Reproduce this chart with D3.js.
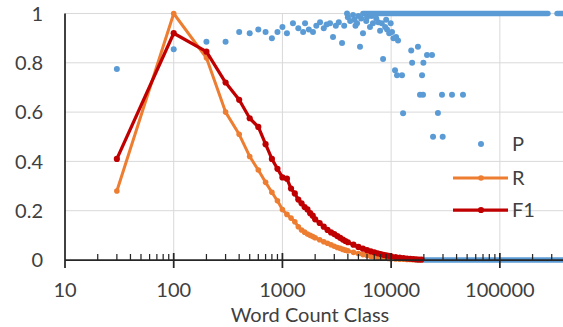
<!DOCTYPE html>
<html>
<head>
<meta charset="utf-8">
<script src="https://cdn.jsdelivr.net/npm/d3@7"></script>
<style>
  body { margin: 0; background: #fff; }
  svg { display: block; font-family: Lato, "Open Sans", sans-serif; }
</style>
</head>
<body>
<svg id="chart" width="563" height="327"></svg>
<script>
// word count classes used by R and F1
var rfClasses = [30, 100, 200, 300, 400, 500, 600, 700, 800, 900, 1000,
  1100, 1200, 1300, 1400, 1500, 1600, 1700, 1800, 1900, 2000,
  2200, 2400, 2600, 2800, 3000, 3200, 3400, 3600, 3800, 4000,
  4500, 5000, 5500, 6000, 6500, 7000, 7500, 8000, 8500, 9000, 9500, 10000,
  11000, 12000, 13000, 14000, 15000, 16000, 17000, 18000, 19000];
var rValues = [0.28, 1.0, 0.82, 0.60, 0.51, 0.42, 0.365, 0.315, 0.275, 0.24, 0.205,
  0.185, 0.17, 0.155, 0.135, 0.122, 0.113, 0.105, 0.1, 0.095, 0.09,
  0.082, 0.074, 0.068, 0.062, 0.056, 0.051, 0.047, 0.043, 0.04, 0.037,
  0.031, 0.026, 0.022, 0.018, 0.015, 0.013, 0.011, 0.01, 0.008, 0.007, 0.006, 0.005,
  0.004, 0.003, 0.003, 0.002, 0.002, 0.001, 0.001, 0.001, 0.001];
var f1Values = [0.41, 0.92, 0.845, 0.72, 0.65, 0.575, 0.54, 0.47, 0.41, 0.37, 0.335,
  0.33, 0.29, 0.27, 0.245, 0.23, 0.215, 0.205, 0.19, 0.18, 0.165,
  0.15, 0.135, 0.122, 0.112, 0.105, 0.097, 0.09, 0.083, 0.077, 0.072,
  0.062, 0.053, 0.046, 0.04, 0.035, 0.031, 0.027, 0.024, 0.021, 0.019, 0.017, 0.015,
  0.012, 0.01, 0.008, 0.006, 0.005, 0.004, 0.003, 0.002, 0.002];

// P scattered points
var pClasses = [30, 100, 200, 300, 400, 500, 600, 700, 800, 900, 1000, 1100,
  1250, 1400, 1550, 1615, 1750, 1910, 2050, 2220, 2400, 2550, 2740, 2920,
  3100, 3300, 3535, 3700, 3930, 4000, 4200, 4460, 4600, 4700, 4860, 5000, 5170,
  5300, 5510, 5900, 6000, 6390, 6600, 6800, 7300, 7600, 7910, 8200, 8430, 8800,
  9000, 9170, 9600, 9900, 10190, 10500, 10860, 11100, 11330, 11570, 12590, 12880,
  15300, 15600, 17650, 18440, 19240, 19640, 19800, 21380, 23770, 24290, 26930,
  29360, 29800, 36300, 45800];
var pValues = [0.775, 0.855, 0.885, 0.885, 0.925, 0.92, 0.935, 0.925, 0.90, 0.925, 0.945, 0.92,
  0.96, 0.94, 0.925, 0.96, 0.935, 0.925, 0.95, 0.965, 0.94, 0.955, 0.96, 0.905,
  0.95, 0.965, 0.88, 0.95, 1.0, 0.985, 0.97, 0.994, 0.975, 0.95, 0.96, 0.99, 0.865,
  0.98, 0.92, 0.97, 0.985, 0.945, 0.99, 0.96, 0.98, 0.965, 0.93, 0.96, 0.815, 0.945,
  0.975, 0.935, 0.92, 0.96, 0.925, 0.9, 0.77, 0.905, 0.75, 0.89, 0.75, 0.595,
  0.85, 0.80, 0.865, 0.67, 0.75, 0.67, 0.8, 0.832, 0.832, 0.5, 0.596,
  0.67, 0.5, 0.67, 0.67];

// P runs of consecutive classes sharing the same value
var pRunStart = [5500, 336000, 17000];
var pRunEnd = [277000, 381000, 381000];
var pRunValue = [1, 1, 0];

var xTicks = [10, 100, 1000, 10000, 100000];
var yTicks = [0, 0.2, 0.4, 0.6, 0.8, 1];
var yTickLabels = ["0", "0.2", "0.4", "0.6", "0.8", "1"];
var seriesNames = ["P", "R", "F1"];

var colorP = "#5b9bd5", colorR = "#ed7d31", colorF1 = "#c00000";

var svg = d3.select("#chart");
var x = d3.scaleLog().domain([10, 381000]).range([65, 563]);
var y = d3.scaleLinear().domain([0, 1]).range([260, 13.5]);

// gridlines
svg.append("g").selectAll("line").data(yTicks.slice(1)).enter().append("line")
  .attr("x1", x(10)).attr("x2", 563)
  .attr("y1", function(d){ return y(d); }).attr("y2", function(d){ return y(d); })
  .attr("stroke", "#d9d9d9").attr("stroke-width", 1);
svg.append("g").selectAll("line").data(xTicks.slice(1)).enter().append("line")
  .attr("x1", function(d){ return x(d); }).attr("x2", function(d){ return x(d); })
  .attr("y1", y(1)).attr("y2", y(0))
  .attr("stroke", "#d9d9d9").attr("stroke-width", 1);

// P
var pts = pClasses.map(function(c, i){ return [c, pValues[i]]; });
svg.append("g").selectAll("line").data(pRunStart).enter().append("line")
  .attr("x1", function(d){ return x(d); })
  .attr("x2", function(d, i){ return x(pRunEnd[i]); })
  .attr("y1", function(d, i){ return y(pRunValue[i]); })
  .attr("y2", function(d, i){ return y(pRunValue[i]); })
  .attr("stroke", colorP).attr("stroke-width", 5.5).attr("stroke-linecap", "round");
svg.append("g").selectAll("circle").data(pts).enter().append("circle")
  .attr("cx", function(d){ return x(d[0]); })
  .attr("cy", function(d){ return y(d[1]); })
  .attr("r", 3).attr("fill", colorP);

// R and F1
function drawSeries(vals, color, w, r) {
  var data = rfClasses.map(function(c, i){ return [c, vals[i]]; });
  var line = d3.line().x(function(d){ return x(d[0]); }).y(function(d){ return y(d[1]); });
  svg.append("path").datum(data).attr("d", line)
    .attr("fill", "none").attr("stroke", color).attr("stroke-width", w)
    .attr("stroke-linejoin", "round");
  svg.append("g").selectAll("circle").data(data).enter().append("circle")
    .attr("cx", function(d){ return x(d[0]); })
    .attr("cy", function(d){ return y(d[1]); })
    .attr("r", r).attr("fill", color);
}
drawSeries(rValues, colorR, 3, 2.8);
drawSeries(f1Values, colorF1, 3.25, 3.1);

// axes
svg.append("line").attr("x1", x(10)).attr("x2", x(10)).attr("y1", y(1)).attr("y2", y(0) + 8)
  .attr("stroke", "#262626").attr("stroke-width", 1.75);
svg.append("line").attr("x1", x(10)).attr("x2", 563).attr("y1", y(0)).attr("y2", y(0))
  .attr("stroke", "#262626").attr("stroke-width", 1.75);

var minor = x.ticks(60).filter(function(d){ return xTicks.indexOf(d) < 0; });
svg.append("g").selectAll("line").data(minor).enter().append("line")
  .attr("x1", function(d){ return x(d); }).attr("x2", function(d){ return x(d); })
  .attr("y1", y(0) - 6).attr("y2", y(0))
  .attr("stroke", "#262626").attr("stroke-width", 1.25);
svg.append("g").selectAll("line").data(xTicks.slice(1)).enter().append("line")
  .attr("x1", function(d){ return x(d); }).attr("x2", function(d){ return x(d); })
  .attr("y1", y(0) - 7).attr("y2", y(0) + 8)
  .attr("stroke", "#262626").attr("stroke-width", 1.75);

svg.append("g").selectAll("text").data(xTicks).enter().append("text")
  .attr("x", function(d){ return x(d); }).attr("y", 297)
  .attr("text-anchor", "middle").attr("font-size", 20).attr("fill", "#404040")
  .text(function(d){ return d3.format("d")(d); });
svg.append("g").selectAll("text").data(yTicks).enter().append("text")
  .attr("x", 43).attr("y", function(d){ return y(d); }).attr("dy", "0.36em")
  .attr("text-anchor", "end").attr("font-size", 20).attr("fill", "#404040")
  .text(function(d, i){ return yTickLabels[i]; });

svg.append("text").attr("x", 310).attr("y", 322).attr("text-anchor", "middle")
  .attr("font-size", 20).attr("fill", "#404040").text("Word Count Class");

// legend
var leg = svg.append("g");
leg.append("circle").attr("cx", 481).attr("cy", 144).attr("r", 3).attr("fill", colorP);
leg.append("line").attr("x1", 453).attr("x2", 508).attr("y1", 178).attr("y2", 178)
  .attr("stroke", colorR).attr("stroke-width", 3);
leg.append("circle").attr("cx", 481).attr("cy", 178).attr("r", 2.8).attr("fill", colorR);
leg.append("line").attr("x1", 453).attr("x2", 508).attr("y1", 210).attr("y2", 210)
  .attr("stroke", colorF1).attr("stroke-width", 3.25);
leg.append("circle").attr("cx", 481).attr("cy", 210).attr("r", 3.1).attr("fill", colorF1);
leg.selectAll("text").data(seriesNames).enter().append("text")
  .attr("x", 512).attr("y", function(d, i){ return [151, 185, 217][i]; })
  .attr("font-size", 20).attr("fill", "#404040").text(function(d){ return d; });
</script>
</body>
</html>
